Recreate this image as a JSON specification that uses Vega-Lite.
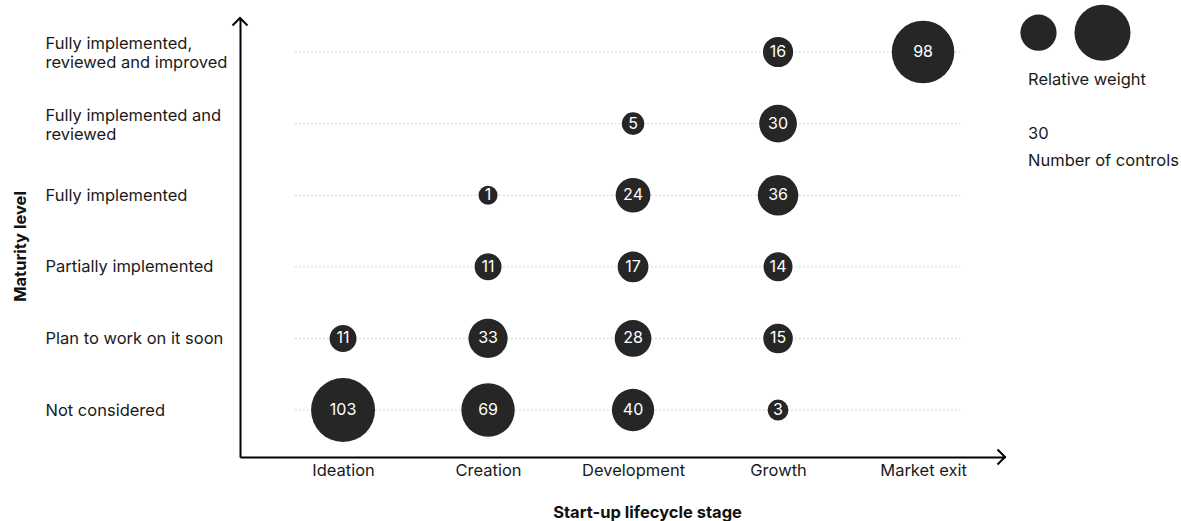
{
  "$schema": "https://vega.github.io/schema/vega-lite/v6.json",
  "autosize": {"type": "none"},
  "width": 765,
  "height": 439,
  "padding": {"left": 240, "top": 18, "right": 176, "bottom": 64},
  "background": "white",
  "config": {
    "view": {"stroke": null},
    "font": "Inter",
    "text": {"font": "Inter"}
  },
  "data": {
    "values": [
      {"stage": "Ideation", "level": "Plan to work on it soon", "controls": 11},
      {"stage": "Ideation", "level": "Not considered", "controls": 103},
      {"stage": "Creation", "level": "Fully implemented", "controls": 1},
      {"stage": "Creation", "level": "Partially implemented", "controls": 11},
      {"stage": "Creation", "level": "Plan to work on it soon", "controls": 33},
      {"stage": "Creation", "level": "Not considered", "controls": 69},
      {"stage": "Development", "level": "Fully implemented and reviewed", "controls": 5},
      {"stage": "Development", "level": "Fully implemented", "controls": 24},
      {"stage": "Development", "level": "Partially implemented", "controls": 17},
      {"stage": "Development", "level": "Plan to work on it soon", "controls": 28},
      {"stage": "Development", "level": "Not considered", "controls": 40},
      {"stage": "Growth", "level": "Fully implemented, reviewed and improved", "controls": 16},
      {"stage": "Growth", "level": "Fully implemented and reviewed", "controls": 30},
      {"stage": "Growth", "level": "Fully implemented", "controls": 36},
      {"stage": "Growth", "level": "Partially implemented", "controls": 14},
      {"stage": "Growth", "level": "Plan to work on it soon", "controls": 15},
      {"stage": "Growth", "level": "Not considered", "controls": 3},
      {"stage": "Market exit", "level": "Fully implemented, reviewed and improved", "controls": 98}
    ]
  },
  "encoding": {
    "x": {
      "field": "stage",
      "type": "nominal",
      "scale": {"type": "point", "domain": ["Ideation", "Creation", "Development", "Growth", "Market exit"], "padding": 0.638, "align": 0.557},
      "axis": {
        "title": "Start-up lifecycle stage",
        "titleFont": "Inter",
        "titleFontSize": 16.5,
        "titleFontWeight": "bold",
        "titleColor": "#111111",
        "titleX": 407,
        "titleY": 55,
        "titleBaseline": "middle",
        "titleAnchor": "middle",
        "labelFont": "Inter",
        "labelFontSize": 16.5,
        "labelColor": "#1a1a1a",
        "labelPadding": 5,
        "labelAngle": 0,
        "ticks": false,
        "grid": false,
        "domainColor": "#000000",
        "domainWidth": 2
      }
    },
    "y": {
      "field": "level",
      "type": "nominal",
      "scale": {"type": "point", "domain": ["Fully implemented, reviewed and improved", "Fully implemented and reviewed", "Fully implemented", "Partially implemented", "Plan to work on it soon", "Not considered"], "padding": 0.5656, "align": 0.42},
      "axis": {
        "title": "Maturity level",
        "titleFont": "Inter",
        "titleFontSize": 16.5,
        "titleFontWeight": "bold",
        "titleColor": "#111111",
        "titleX": -220,
        "titleY": 228,
        "titleAngle": -90,
        "titleAlign": "center",
        "titleBaseline": "middle",
        "labelFont": "Inter",
        "labelFontSize": 16.5,
        "labelColor": "#1a1a1a",
        "labelAlign": "left",
        "labelBaseline": "middle",
        "labelOffset": {"condition": {"test": "length(datum.value) > 25", "value": -8.5}, "value": 0},
        "labelPadding": 195,
        "labelLimit": 300,
        "labelLineHeight": 19,
        "labelExpr": "datum.value == 'Fully implemented, reviewed and improved' ? ['Fully implemented,', 'reviewed and improved'] : datum.value == 'Fully implemented and reviewed' ? ['Fully implemented and', 'reviewed'] : datum.value",
        "ticks": false,
        "grid": false,
        "domainColor": "#000000",
        "domainWidth": 2
      }
    }
  },
  "layer": [
    {
      "transform": [{"aggregate": [{"op": "count", "as": "n"}], "groupby": ["level"]}],
      "mark": {"type": "rule", "xOffset": -48, "x2Offset": 37, "color": "#c8c8c8", "strokeWidth": 1, "strokeDash": [1.5, 2.5]},
      "encoding": {
        "x": {"datum": "Ideation", "type": "nominal"},
        "x2": {"datum": "Market exit"}
      }
    },
    {
      "mark": {"type": "point", "shape": "circle", "filled": true, "color": "#262626", "opacity": 1},
      "encoding": {
        "size": {
          "field": "controls",
          "type": "quantitative",
          "scale": {"type": "linear", "zero": false, "domain": [1, 103], "range": [361, 4096]},
          "legend": {
            "orient": "none",
            "legendX": 788,
            "legendY": -14,
            "direction": "horizontal",
            "values": [27, 77],
            "labelExpr": "''",
            "labelFontSize": 1,
            "labelOffset": 0,
            "columnPadding": 17,
            "symbolOffset": -8,
            "symbolFillColor": "#262626",
            "symbolStrokeColor": "#262626",
            "symbolOpacity": 1,
            "symbolStrokeWidth": 0,
            "title": ["Relative weight", "\u200b", "30", "Number of controls"],
            "titleOrient": "bottom",
            "titleAnchor": "start",
            "titleFont": "Inter",
            "titleFontSize": 16.5,
            "titleFontWeight": "normal",
            "titleColor": "#1a1a1a",
            "titleLineHeight": 27,
            "titlePadding": 11
          }
        }
      }
    },
    {
      "mark": {"type": "text", "color": "#ffffff", "fontSize": 16, "font": "Inter", "align": "center", "baseline": "middle"},
      "encoding": {
        "text": {"field": "controls", "type": "quantitative"}
      }
    },
    {
      "data": {"values": [{"arrow": "x axis"}]},
      "mark": {"type": "point", "shape": "M-1,-1L0,0L-1,1", "size": 225, "filled": false, "stroke": "#000000", "strokeWidth": 2, "opacity": 1},
      "encoding": {
        "x": {"value": "width"},
        "y": {"value": "height"}
      }
    },
    {
      "data": {"values": [{"arrow": "y axis"}]},
      "mark": {"type": "point", "shape": "M-1,1L0,0L1,1", "size": 225, "filled": false, "stroke": "#000000", "strokeWidth": 2, "opacity": 1},
      "encoding": {
        "x": {"value": 0},
        "y": {"value": 0}
      }
    }
  ]
}
